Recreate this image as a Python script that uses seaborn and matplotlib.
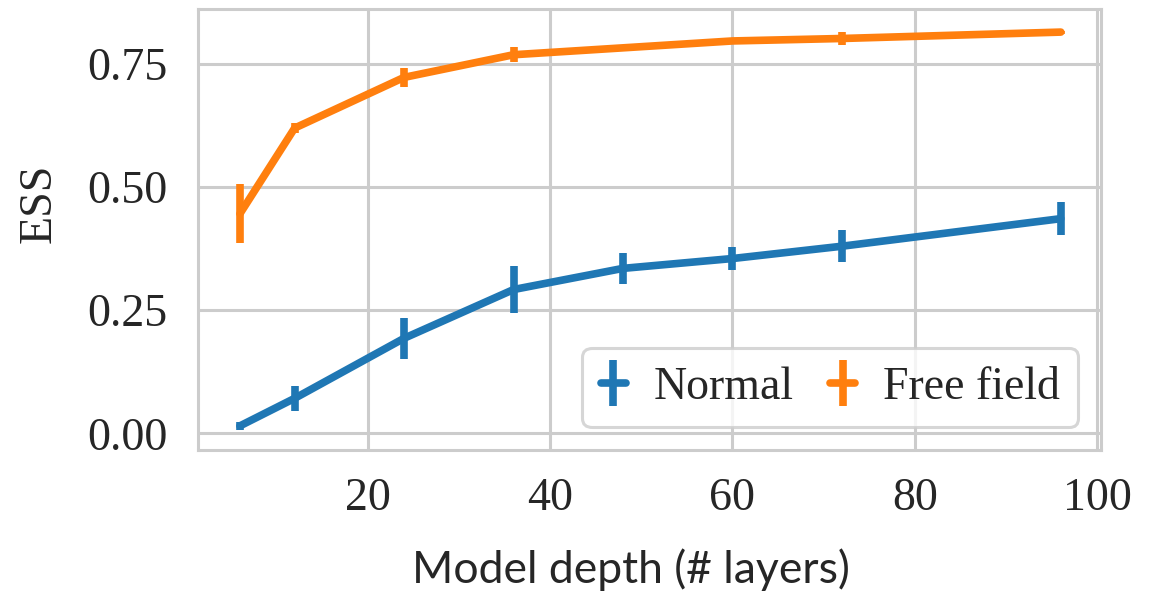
import numpy as np
import pandas as pd
import matplotlib
matplotlib.use("Agg")
import matplotlib.pyplot as plt
import seaborn as sns
from matplotlib.container import ErrorbarContainer
from matplotlib.collections import LineCollection
from matplotlib.lines import Line2D

# ESS versus model depth, mean and half-width of the spread per depth
normal_depth = [6, 12, 24, 36, 48, 60, 72, 96]
normal_ess = [0.015, 0.071, 0.193, 0.292, 0.335, 0.355, 0.380, 0.436]
normal_err = [0.008, 0.025, 0.042, 0.048, 0.032, 0.023, 0.033, 0.034]

free_depth = [6, 12, 24, 36, 60, 72, 96]
free_ess = [0.446, 0.620, 0.723, 0.769, 0.797, 0.802, 0.815]
free_err = [0.060, 0.010, 0.019, 0.015, 0.003, 0.013, 0.003]

series_names = ["Normal", "Free field"]
y_ticks = [0.00, 0.25, 0.50, 0.75]
x_ticks = [20, 40, 60, 80, 100]

# long-form table: low / mean / high rows so the full range gives the bar
rows = []
for name, xs, ms, es in [
    (series_names[0], normal_depth, normal_ess, normal_err),
    (series_names[1], free_depth, free_ess, free_err),
]:
    for x, m, e in zip(xs, ms, es):
        for v in (m - e, m, m + e):
            rows.append({"depth": x, "ess": v, "model": name})
df = pd.DataFrame(rows)

sns.set_theme(style="whitegrid")
plt.rcParams["font.family"] = ["Liberation Serif", "DejaVu Serif"]
plt.rcParams["text.color"] = "#262626"
plt.rcParams["xtick.color"] = "#262626"
plt.rcParams["ytick.color"] = "#262626"

colors = ["#1f77b4", "#ff7f0e"]
lw = 5.5
fs = 33

fig = plt.figure(figsize=(11.55, 5.97), dpi=100)
ax = fig.add_axes([0.1714, 0.2462, 0.9532 - 0.1714, 0.985 - 0.2462])

sns.lineplot(
    data=df, x="depth", y="ess", hue="model", hue_order=series_names,
    palette=colors, estimator="mean", errorbar=("pi", 100),
    err_style="bars", err_kws={"elinewidth": lw, "capsize": 0},
    linewidth=lw, legend=False, ax=ax,
)
for coll in ax.collections:
    coll.set_capstyle("butt")

ax.set_xlim(1.4, 100.4)
ax.set_ylim(-0.034, 0.862)
ax.set_xticks(x_ticks)
ax.set_yticks(y_ticks)
ax.set_yticklabels([f"{t:.2f}" for t in y_ticks])
ax.tick_params(axis="both", labelsize=fs, length=0)
ax.tick_params(axis="y", pad=22)
ax.tick_params(axis="x", pad=20)

for s in ax.spines.values():
    s.set_color("#cccccc")
    s.set_linewidth(2.2)
ax.grid(True, color="#cccccc", linewidth=2.2)

ax.set_ylabel("ESS", fontsize=fs)
ax.yaxis.set_label_coords(-0.152, 0.56)
ax.set_xlabel("Model depth (# layers)", fontsize=32, family="Lato")
ax.xaxis.set_label_coords(0.4795, -0.222)

# legend entries drawn as error-bar glyphs
handles = []
for name, c in zip(series_names, colors):
    ln = Line2D([], [], color=c, linewidth=lw, solid_capstyle="round")
    bar = LineCollection([], colors=c, linewidths=lw, capstyle="butt")
    handles.append(ErrorbarContainer((ln, (), (bar,)), has_xerr=False,
                                     has_yerr=True, label=name))
leg = ax.legend(handles=handles, labels=series_names, loc="lower right",
                ncol=2, fontsize=fs, handlelength=0.55, handletextpad=0.6,
                columnspacing=0.8, framealpha=0.8, fancybox=True)
leg.get_frame().set_edgecolor("#cccccc")
leg.get_frame().set_linewidth(2.2)

fig.savefig("out.png", dpi=100)
